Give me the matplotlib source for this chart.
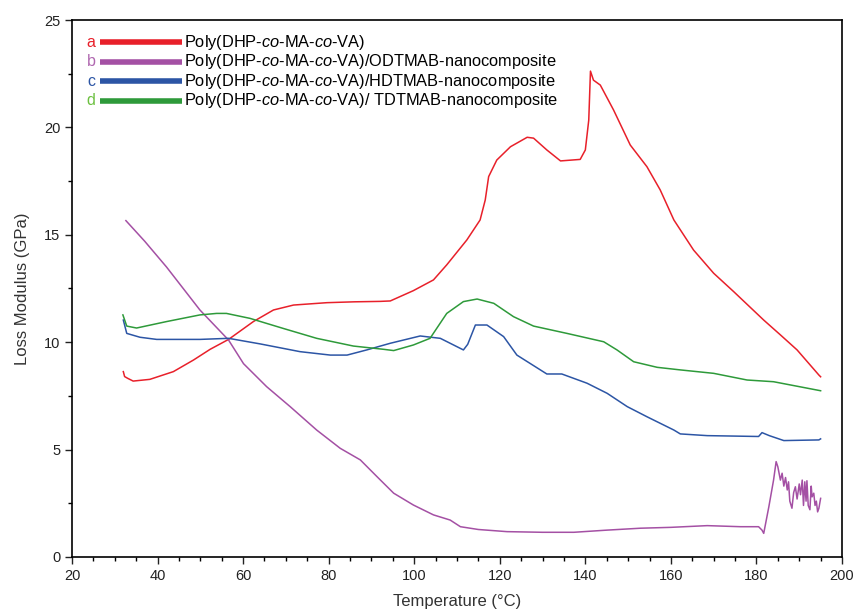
import numpy as np
import matplotlib
matplotlib.use('Agg')
import matplotlib.pyplot as plt

plt.rcParams['font.family'] = 'Liberation Sans'
plt.rcParams['mathtext.fontset'] = 'custom'
plt.rcParams['mathtext.it'] = 'Liberation Sans:italic'
plt.rcParams['mathtext.rm'] = 'Liberation Sans'

# a: Poly(DHP-co-MA-co-VA)
temp_a = [32.0, 32.3, 33.0, 34.3, 38.2, 43.7, 48.4, 52.3, 56.6, 62.4, 67.1, 71.8, 79.6,
          86.0, 92.0, 94.4, 99.8, 104.5, 107.6, 112.3, 115.4, 116.6, 117.4, 119.3, 122.5,
          126.4, 127.9, 131.0, 134.2, 138.8, 140.0, 140.8, 141.2, 141.9, 143.5, 146.6,
          150.5, 154.4, 157.5, 160.7, 165.3, 170.0, 174.7, 181.7, 185.6, 189.5, 194.6, 195.0]
loss_a = [8.63, 8.40, 8.32, 8.19, 8.27, 8.63, 9.17, 9.67, 10.13, 10.96, 11.50, 11.73, 11.84,
          11.88, 11.90, 11.92, 12.40, 12.90, 13.60, 14.76, 15.69, 16.62, 17.71, 18.48, 19.10,
          19.54, 19.50, 18.95, 18.44, 18.51, 18.95, 20.34, 22.62, 22.20, 21.97, 20.81,
          19.18, 18.17, 17.09, 15.69, 14.29, 13.21, 12.35, 11.03, 10.34, 9.64, 8.47, 8.39]

# b: ODTMAB nanocomposite
temp_b = [32.6, 37.0, 42.1, 49.9, 56.6, 60.1, 65.5, 71.0, 77.2, 82.7, 87.4, 91.3, 95.2,
          99.8, 104.5, 108.4, 110.8, 115.0, 121.7, 130.0, 137.3, 145.0, 152.9, 160.0,
          168.5, 176.3, 180.5, 181.3, 181.7, 182.9, 184.0, 184.6, 185.0, 185.6, 186.0, 186.4,
          186.8, 187.2, 187.5, 187.8, 188.3, 188.7, 189.1, 189.5, 190.0, 190.3, 190.7, 191.0,
          191.3, 191.6, 191.8, 192.1, 192.5, 192.8, 193.0, 193.4, 193.7, 194.0, 194.3,
          194.6, 195.0]
loss_b = [15.66, 14.70, 13.50, 11.50, 10.10, 9.00, 7.93, 7.00, 5.91, 5.06, 4.52, 3.74, 2.97,
          2.42, 1.96, 1.72, 1.41, 1.28, 1.18, 1.15, 1.15, 1.25, 1.34, 1.38,
          1.46, 1.41, 1.41, 1.25, 1.10, 2.34, 3.58, 4.44, 4.20, 3.58, 3.90, 3.30,
          3.70, 3.12, 3.50, 2.60, 2.27, 3.00, 3.27, 2.70, 3.40, 2.90, 3.58, 2.40,
          3.50, 2.60, 3.55, 2.40, 2.20, 3.30, 2.80, 2.97, 2.40, 2.60, 2.10,
          2.27, 2.73]

# c: HDTMAB nanocomposite
temp_c = [32.0, 32.8, 35.9, 39.8, 49.9, 56.6, 64.0, 73.3, 80.4, 84.3, 88.9, 94.4,
          101.4, 106.1, 111.5, 112.5, 114.3, 117.0, 120.9, 124.0, 131.0, 134.5, 140.4,
          145.1, 149.8, 154.4, 160.7, 162.2, 168.5, 180.5, 181.3, 183.0, 186.4, 194.6, 195.0]
loss_c = [11.03, 10.41, 10.23, 10.13, 10.13, 10.18, 9.92, 9.56, 9.40, 9.40, 9.64, 9.95,
          10.29, 10.18, 9.64, 9.90, 10.80, 10.80, 10.26, 9.40, 8.52, 8.52, 8.09,
          7.62, 7.00, 6.53, 5.91, 5.73, 5.65, 5.61, 5.79, 5.65, 5.42, 5.45, 5.50]

# d: TDTMAB nanocomposite
temp_d = [31.9, 32.8, 35.1, 42.1, 49.9, 53.8, 56.1, 61.6, 69.4, 77.2, 85.8, 92.8, 95.2,
          99.8, 103.7, 107.6, 111.5, 114.7, 118.6, 123.2, 127.9, 135.7, 144.3, 147.4,
          151.3, 156.8, 162.2, 170.0, 177.8, 184.0, 195.0]
loss_d = [11.27, 10.75, 10.66, 10.96, 11.27, 11.34, 11.34, 11.11, 10.64, 10.18, 9.82, 9.67, 9.61,
          9.87, 10.18, 11.34, 11.89, 12.01, 11.81, 11.19, 10.75, 10.41, 10.02, 9.64,
          9.09, 8.83, 8.71, 8.55, 8.24, 8.16, 7.74]

series = [
    ('a', 'Poly(DHP-$\\it{co}$-MA-$\\it{co}$-VA)', temp_a, loss_a, '#e8202a', '#e8202a'),
    ('b', 'Poly(DHP-$\\it{co}$-MA-$\\it{co}$-VA)/ODTMAB-nanocomposite', temp_b, loss_b, '#a450a4', '#b068b0'),
    ('c', 'Poly(DHP-$\\it{co}$-MA-$\\it{co}$-VA)/HDTMAB-nanocomposite', temp_c, loss_c, '#2c55a5', '#2c55a5'),
    ('d', 'Poly(DHP-$\\it{co}$-MA-$\\it{co}$-VA)/ TDTMAB-nanocomposite', temp_d, loss_d, '#2e9a3a', '#6cc040'),
]

fig = plt.figure(figsize=(8.55, 6.1), dpi=100)
ax = fig.add_axes([0.0842, 0.0869, 0.9006, 0.8803])

for letter, label, x, y, col, lcol in series:
    ax.plot(x, y, color=col, lw=1.1)

# hand made legend (letter, thick line, text)
for i, (letter, label, x, y, col, lcol) in enumerate(series):
    yy = 0.959 - i * 0.0365
    ax.text(0.025, yy, letter, color=lcol, fontsize=11.5, ha='center', va='center',
            transform=ax.transAxes)
    ax.plot([0.036, 0.143], [yy, yy], color=col, lw=4, transform=ax.transAxes,
            solid_capstyle='butt')
    ax.text(0.146, yy, label, color='black', fontsize=11.8, ha='left', va='center',
            transform=ax.transAxes)

ax.set_xlim(20, 200)
ax.set_ylim(0, 25)
ax.set_xticks(np.arange(20, 201, 20))
ax.set_yticks(np.arange(0, 26, 5))
ax.set_xticks(np.arange(20, 201, 5), minor=True)
ax.set_yticks(np.arange(0, 25.1, 2.5), minor=True)
ax.tick_params(direction='out', length=5, width=1, labelsize=10.5, colors='#222222')
ax.tick_params(which='minor', direction='out', length=3, width=1)
for s in ax.spines.values():
    s.set_linewidth(1.2)
ax.set_xlabel('Temperature (°C)', fontsize=12, color='#333333', labelpad=8)
ax.set_ylabel('Loss Modulus (GPa)', fontsize=12, color='#333333', labelpad=10)

fig.savefig('out.png', dpi=100)
